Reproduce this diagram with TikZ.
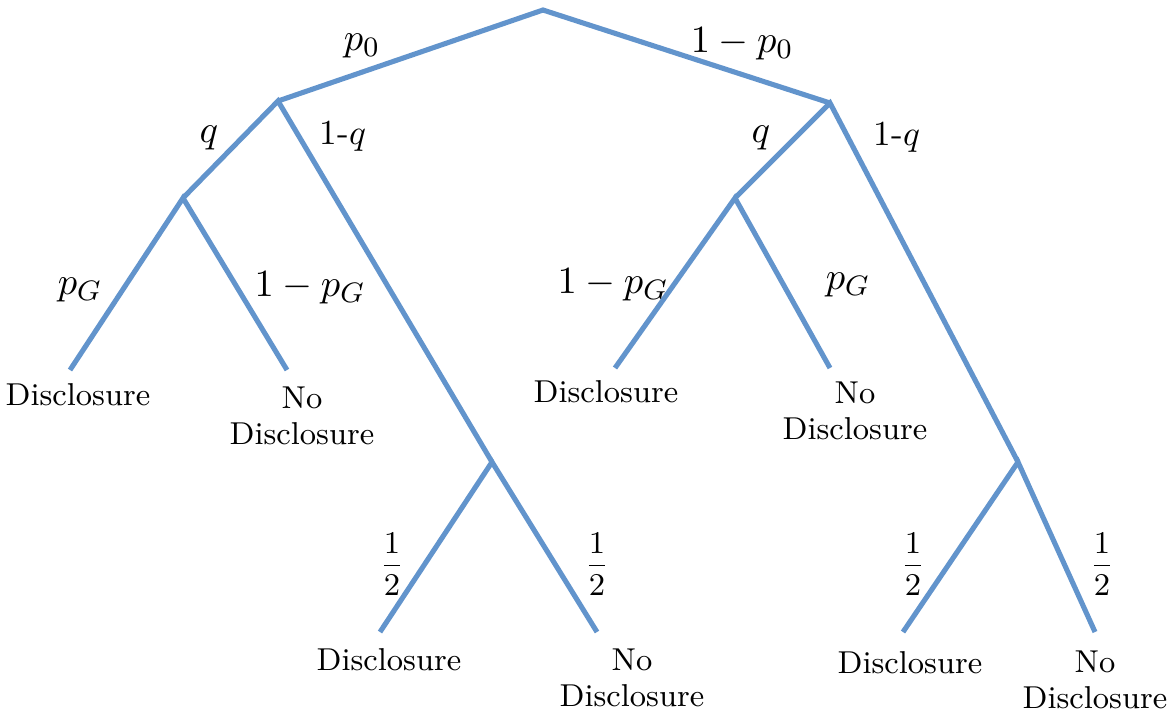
\documentclass[tikz,border=0pt]{standalone}
\usepackage{amsmath}
\usepackage{tikz}
\usetikzlibrary{positioning}
\definecolor{branchblue}{RGB}{98,148,204}

\begin{document}
\begin{tikzpicture}[x=0.01cm,y=-0.01cm,
  branch/.style={draw=branchblue,line width=1.45pt},
  prob/.style={font=\fontsize{11}{13}\selectfont,inner sep=0pt},
  half/.style={prob,font=\fontsize{8.8}{10}\selectfont},
  leaf/.style={font=\fontsize{9}{10.4}\selectfont,align=center,anchor=north,inner sep=0pt}]
\useasboundingbox (0,0) rectangle (1170,711);
% tree points
\coordinate (R) at (543,10);
\coordinate (A) at (278,101); \coordinate (B) at (830,103);
\coordinate (AA) at (183,198); \coordinate (AB) at (492,462);
\coordinate (BA) at (735,198); \coordinate (BB) at (1018,462);
\coordinate (AA1) at (70,370); \coordinate (AA2) at (287,370);
\coordinate (BA1) at (615,368); \coordinate (BA2) at (830,368);
\coordinate (AB1) at (380,632); \coordinate (AB2) at (597,632);
\coordinate (BB1) at (903,632); \coordinate (BB2) at (1095,632);

% branches
\draw[branch] (A)--(R)--(B);
\draw[branch] (AA)--(A)--(AB);
\draw[branch] (BA)--(B)--(BB);
\draw[branch] (AA1)--(AA)--(AA2);
\draw[branch] (BA1)--(BA)--(BA2);
\draw[branch] (AB1)--(AB)--(AB2);
\draw[branch] (BB1)--(BB)--(BB2);

% probabilities
\node[prob] (pR1) at (362,46) {$p_0$};
\node[prob] (pR2) at (742,44) {$1-p_0$};
\node[prob] (pA1) at (209,138) {$q$};
\node[prob,font=\fontsize{10}{12}\selectfont] (pA2) at (343,136) {1-$q$};
\node[prob] (pB1) at (761,138) {$q$};
\node[prob,font=\fontsize{10}{12}\selectfont] (pB2) at (897,137) {1-$q$};
\node[prob] (pAA1) at (80,290) {$p_G$};
\node[prob] (pAA2) at (310,288) {$1-p_G$};
\node[prob] (pBA1) at (613,285) {$1-p_G$};
\node[prob] (pBA2) at (848,285) {$p_G$};
\node[half] (pAB1) at (392,564) {$\dfrac{1}{2}$};
\node[half] (pAB2) at (597,564) {$\dfrac{1}{2}$};
\node[half] (pBB1) at (913,564) {$\dfrac{1}{2}$};
\node[half] (pBB2) at (1102,564) {$\dfrac{1}{2}$};

% outcomes
\node[leaf] (tAA1) at (78,383) {Disclosure};
\node[leaf] (tAA2) at (302,386) {No\\Disclosure};
\node[leaf] (tBA1) at (606,380) {Disclosure};
\node[leaf] (tBA2) at (855,381) {No\\Disclosure};
\node[leaf] (tAB1) at (389,648) {Disclosure};
\node[leaf] (tAB2) at (632,648) {No\\Disclosure};
\node[leaf] (tBB1) at (910,651) {Disclosure};
\node[leaf] (tBB2) at (1095,650) {No\\Disclosure};
\end{tikzpicture}
\end{document}
